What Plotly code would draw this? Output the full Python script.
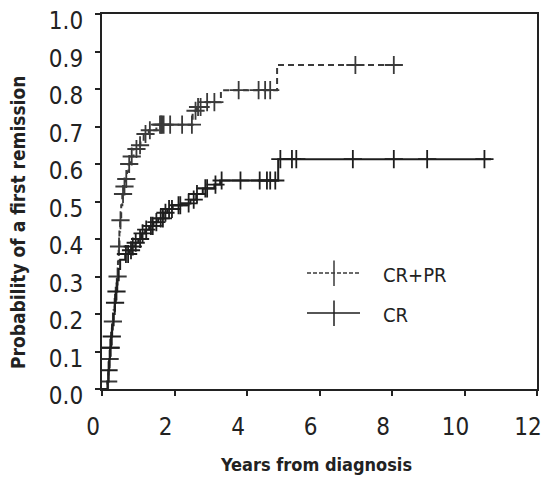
import plotly.graph_objects as go

# ---------------- data ----------------
# CR+PR: event times (years) and cumulative probability after each event
crpr_times = [0.15, 0.18, 0.20, 0.22, 0.25, 0.28, 0.32, 0.35, 0.38, 0.41, 0.44, 0.46,
              0.48, 0.50, 0.53, 0.56, 0.60, 0.65, 0.69, 0.73, 0.78, 0.87, 0.97, 1.06,
              1.15, 1.29, 1.50, 2.50, 2.62, 2.85, 3.28, 4.83]
crpr_probs = [0.02, 0.05, 0.08, 0.11, 0.15, 0.18, 0.21, 0.24, 0.27, 0.30, 0.34, 0.38,
              0.42, 0.45, 0.49, 0.52, 0.54, 0.56, 0.58, 0.60, 0.62, 0.64, 0.65, 0.665,
              0.68, 0.69, 0.705, 0.742, 0.752, 0.765, 0.797, 0.864]
crpr_censor = [0.17, 0.21, 0.24, 0.30, 0.43, 0.47, 0.51, 0.58, 0.62, 0.67, 0.75, 0.82,
               0.95, 1.05, 1.20, 1.32, 1.60, 1.63, 1.66, 1.70, 1.88, 2.21, 2.48, 2.58,
               2.65, 2.72, 2.90, 3.10, 3.77, 4.32, 4.50, 4.64, 6.99, 8.05]
crpr_end = 8.05

# CR
cr_times = [0.15, 0.18, 0.20, 0.22, 0.25, 0.28, 0.32, 0.35, 0.38, 0.42, 0.46, 0.50,
            0.64, 0.75, 0.83, 0.92, 1.00, 1.10, 1.19, 1.30, 1.42, 1.55, 1.70, 1.80,
            1.95, 2.20, 2.44, 2.60, 2.78, 3.10, 3.26, 4.86]
cr_probs = [0.02, 0.05, 0.08, 0.11, 0.14, 0.17, 0.20, 0.23, 0.26, 0.29, 0.32, 0.345,
            0.36, 0.37, 0.38, 0.39, 0.40, 0.415, 0.425, 0.435, 0.445, 0.455, 0.47, 0.48,
            0.49, 0.495, 0.505, 0.52, 0.535, 0.545, 0.556, 0.613]
cr_censor = [0.18, 0.23, 0.27, 0.36, 0.40, 0.66, 0.72, 0.80, 0.85, 0.93, 1.05, 1.12,
             1.22, 1.35, 1.40, 1.50, 1.62, 1.68, 1.75, 1.85, 1.93, 2.11, 2.16, 2.39,
             2.53, 2.62, 2.85, 2.90, 3.13, 3.30, 3.82, 4.35, 4.55, 4.64, 4.78, 4.92,
             5.24, 5.36, 6.92, 8.05, 8.97, 10.55]
cr_end = 10.73

x_ticks = [0, 2, 4, 6, 8, 10, 12]
y_ticks = [0.0, 0.1, 0.2, 0.3, 0.4, 0.5, 0.6, 0.7, 0.8, 0.9, 1.0]
series_names = ["CR+PR", "CR"]


def step_value(times, probs, t):
    v = 0.0
    for ti, pi in zip(times, probs):
        if ti <= t:
            v = pi
    return v


def step_xy(times, probs, end):
    xs = [0.0] + list(times) + [end]
    ys = [0.0] + list(probs) + [probs[-1]]
    return xs, ys


FAM = "DejaVu Sans Condensed, DejaVu Sans"
DASH_COL = "#3a3a3a"
SOLID_COL = "#1e1e1e"


def font(size, weight="normal"):
    return dict(family=FAM, size=size, color="#222", weight=weight)


fig = go.Figure()

for times, probs, cens, end, col, dash in [
    (crpr_times, crpr_probs, crpr_censor, crpr_end, DASH_COL, "6px,4px"),
    (cr_times, cr_probs, cr_censor, cr_end, SOLID_COL, "solid"),
]:
    xs, ys = step_xy(times, probs, end)
    fig.add_trace(go.Scatter(x=xs, y=ys, mode="lines", line_shape="hv",
                             line=dict(color=col, width=2, dash=dash),
                             showlegend=False, hoverinfo="skip"))
    fig.add_trace(go.Scatter(x=cens, y=[step_value(times, probs, c) for c in cens],
                             mode="markers",
                             marker=dict(symbol="cross-thin", size=13,
                                         line=dict(color=col, width=1.8)),
                             showlegend=False, hoverinfo="skip"))

# plot area in pixels
L, R, T, B = 102, 537, 14, 389
W, H = 543, 477


def px(x):
    return (x - L) / (R - L)


def py(y):
    return (B - y) / (B - T)


# legend drawn by hand (layout elements)
legend_rows = [(273, DASH_COL, "4px,2px"), (313, SOLID_COL, "solid")]
for (yy, col, dash), name in zip(legend_rows, series_names):
    fig.add_shape(type="line", xref="paper", yref="paper",
                  x0=px(307), x1=px(360), y0=py(yy), y1=py(yy),
                  line=dict(color=col, width=1.5, dash=dash))
    fig.add_shape(type="line", xref="paper", yref="paper",
                  x0=px(334), x1=px(334), y0=py(yy - 12.5), y1=py(yy + 13),
                  line=dict(color=col, width=1.5))
    fig.add_annotation(xref="paper", yref="paper", x=px(381), y=py(yy + 2),
                       text=name, showarrow=False, xanchor="left", yanchor="middle",
                       font=font(20))

# axis titles
fig.add_annotation(xref="paper", yref="paper", x=px(316), y=py(464),
                   text="Years from diagnosis", showarrow=False,
                   xanchor="center", yanchor="middle", font=font(18, "bold"))
fig.add_annotation(xref="paper", yref="paper", x=px(18), y=py(223),
                   text="Probability of a first remission", showarrow=False,
                   textangle=-90, xanchor="center", yanchor="middle",
                   font=font(19, "bold"))

axis_common = dict(showgrid=False, zeroline=False, showline=True, linecolor="#222",
                   linewidth=2, mirror=True, ticks="outside", ticklen=5, tickwidth=2,
                   tickcolor="#222", tickfont=font(24), automargin=False)

fig.update_layout(
    width=W, height=H,
    margin=dict(l=L, r=W - R, t=T, b=H - B, pad=0),
    paper_bgcolor="white", plot_bgcolor="white",
    xaxis=dict(range=[0, 12], tickvals=x_ticks, ticktext=[str(v) for v in x_ticks],
               ticklabelshift=-9, ticklabelstandoff=10, **axis_common),
    yaxis=dict(range=[0, 1], tickvals=y_ticks, ticktext=[f"{v:.1f}" for v in y_ticks],
               ticklabelshift=7, ticklabelstandoff=7, **axis_common),
)

post = (
    "document.body.style.margin='0';document.body.style.overflow='hidden';"
    "var st=document.createElement('style');"
    "st.textContent='svg text{font-stretch:condensed !important;}';"
    "document.head.appendChild(st);"
    "Plotly.redraw(document.getElementById('{plot_id}'));"
)
fig.write_html("out.html", post_script=post, config={"displayModeBar": False})
